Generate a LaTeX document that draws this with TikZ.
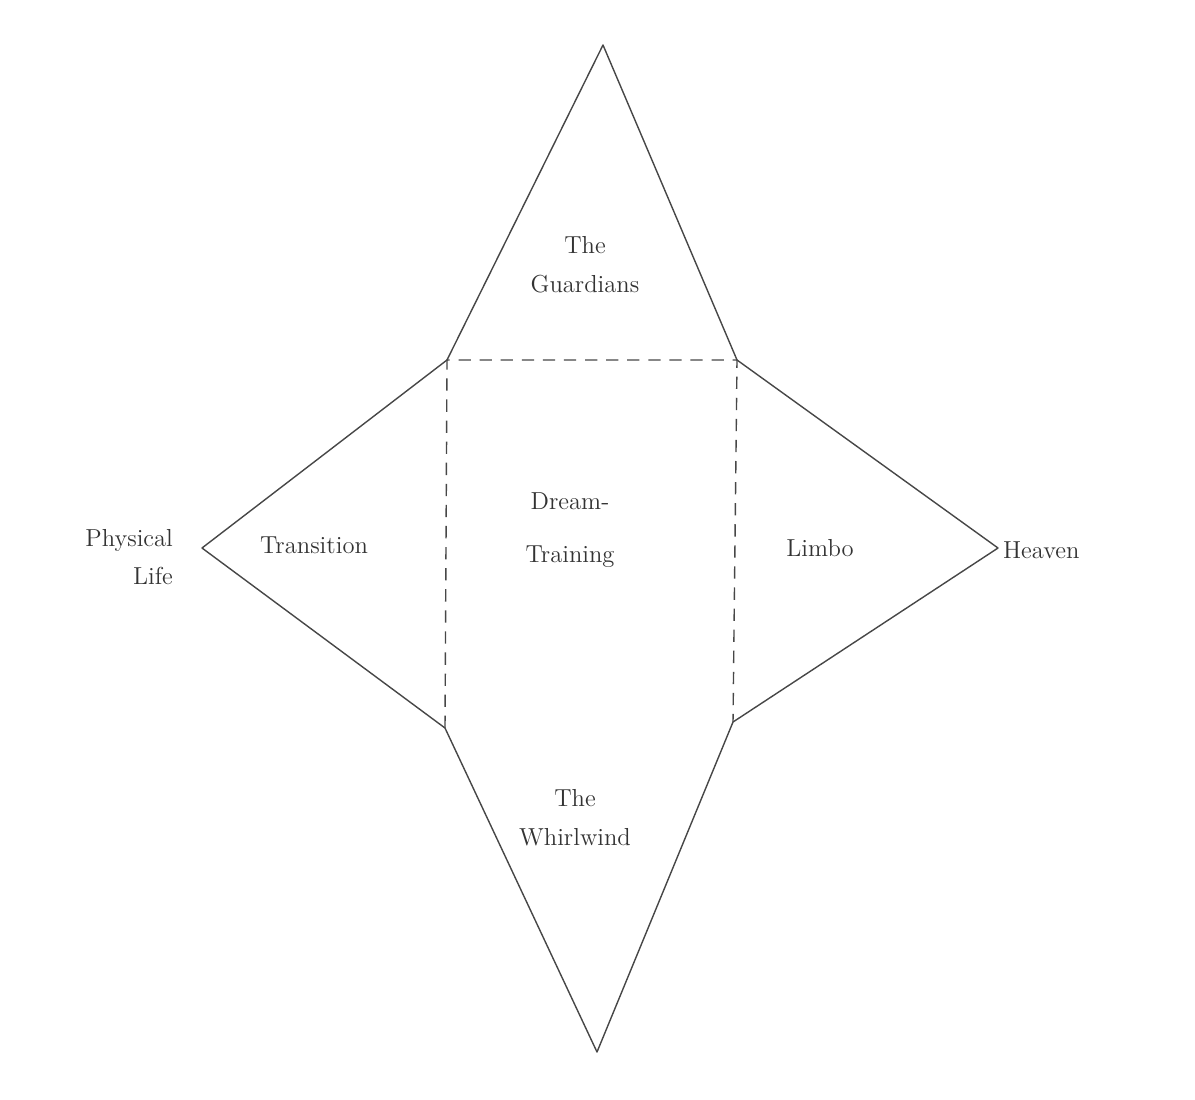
\documentclass[tikz,border=0pt]{standalone}
\usepackage{tikz}
\usetikzlibrary{positioning}

\begin{document}
\begin{tikzpicture}[
  x=0.02cm, y=-0.02cm,
  edge/.style={draw=black!72, line width=0.8pt, line join=round},
  fold/.style={draw=black!72, line width=0.8pt, dash pattern=on 7pt off 5pt},
  lbl/.style={align=center, font=\fontsize{14}{22}\selectfont, text=black!80, inner sep=1pt}
]
\useasboundingbox (0,0) rectangle (1195,1099);
% corners of the square and the four tips
\coordinate (tl) at (447,360);
\coordinate (tr) at (737,360);
\coordinate (bl) at (445,728);
\coordinate (br) at (733,722);
\coordinate (top) at (603,45);
\coordinate (left) at (202,548);
\coordinate (right) at (998,548);
\coordinate (bot) at (597,1052);
\node[lbl] (guard) at (585,265) {The\\Guardians};
\node[lbl] (dream) at (570,530) {Dream-\\[8pt]Training};
\node[lbl] (trans) at (314,545) {Transition};
\node[lbl] (limbo) at (820,548) {Limbo};
\node[lbl] (whirl) at (575,818) {The\\Whirlwind};
\node[lbl, align=right, anchor=east] (phys) at (175,557) {Physical\\Life};
\node[lbl, anchor=west] (heav) at (1001,550) {Heaven};
\draw[edge] (tl) -- (top) -- (tr) -- (right) -- (br) -- (bot) -- (bl) -- (left) -- cycle;
\draw[fold] (bl) -- (tl) -- (tr) -- (br);
\end{tikzpicture}
\end{document}
